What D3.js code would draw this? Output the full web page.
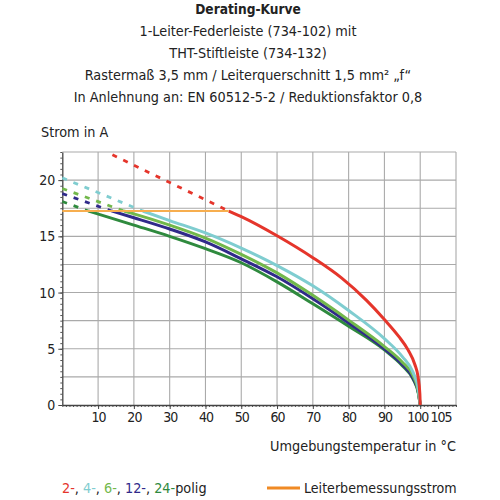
<!DOCTYPE html>
<html>
<head>
<meta charset="utf-8">
<script src="https://cdn.jsdelivr.net/npm/d3@7"></script>
<style>
  body { margin: 0; background: #fff; }
  svg text { font-family: "Liberation Sans Narrow", "DejaVu Sans Condensed", Roboto, sans-serif; fill: #222; }
</style>
</head>
<body>
<svg width="500" height="500"></svg>
<script>
// title lines
const titleLines = [
  "Derating-Kurve",
  "1-Leiter-Federleiste (734-102) mit",
  "THT-Stiftleiste (734-132)",
  "Rastermaß 3,5 mm / Leiterquerschnitt 1,5 mm² „f“",
  "In Anlehnung an: EN 60512-5-2 / Reduktionsfaktor 0,8"
];

const xTickLabels = [10, 20, 30, 40, 50, 60, 70, 80, 90, 100, 105];
const yTickLabels = [0, 5, 10, 15, 20];

const ratedCurrent = 17.25;
const ratedEnd = 46.5;

// polig counts, colours; curves are [temperature, current]
const poles = ["2", "4", "6", "12", "24"];
const poleColors = ["#e5352b", "#7fcdd0", "#72b84b", "#302a8a", "#2f8a3e"];

// dashed extrapolation above rated current
const dash2 = [[14, 22.25], [46.5, 17.25]];
const dash4 = [[0, 20.2], [22.5, 17.25]];
const dash6 = [[0, 19.25], [17.2, 17.25]];
const dash12 = [[0, 18.8], [13.8, 17.25]];
const dash24 = [[0, 18.1], [7.3, 17.25]];

// solid derating curves
const curve2 = [[46.5, 17.25], [50, 16.75], [60, 15.05], [70, 13.1], [78, 11.3], [85, 9.3], [90, 7.6], [94, 6.1], [96.6, 4.9], [98.5, 3.6], [99.4, 2.5], [99.9, 1.0], [100, 0]];
const curve4 = [[22.5, 17.25], [30, 16.4], [40, 15.3], [50, 13.95], [60, 12.4], [70, 10.6], [80, 8.4], [90, 5.9], [95, 4.3], [98, 2.9], [99.4, 1.5], [100, 0]];
const curve6 = [[17.2, 17.25], [20, 17.0], [30, 16.0], [40, 14.85], [50, 13.4], [60, 11.75], [70, 9.75], [80, 7.55], [90, 5.2], [95, 3.8], [98, 2.6], [99.4, 1.3], [100, 0]];
const curve12 = [[13.8, 17.25], [20, 16.65], [30, 15.65], [40, 14.5], [50, 13.0], [60, 11.4], [70, 9.45], [80, 7.3], [90, 5.0], [95, 3.6], [98, 2.4], [99.5, 1.1], [100, 0]];
const curve24 = [[7.3, 17.25], [20, 16.0], [30, 15.0], [40, 13.9], [50, 12.65], [60, 10.95], [70, 9.0], [80, 7.0], [90, 4.9], [95, 3.5], [98, 2.3], [99.5, 1.0], [100, 0]];

const dashes = [dash2, dash4, dash6, dash12, dash24];
const curves = [curve2, curve4, curve6, curve12, curve24];

const svg = d3.select("svg");
const fs = "14.3px";

const x = d3.scaleLinear().domain([0, 110]).range([62.3, 456]);
const y = d3.scaleLinear().domain([0, 22.5]).range([405, 152]);

// title
svg.append("g")
  .selectAll("text")
  .data(titleLines)
  .join("text")
  .attr("x", 248)
  .attr("y", (d, i) => 14 + i * 22)
  .attr("text-anchor", "middle")
  .style("font-size", (d, i) => i === 0 ? "13.6px" : fs)
  .style("font-weight", (d, i) => i === 0 ? "bold" : "normal")
  .text(d => d);

// grid
const grid = svg.append("g").attr("stroke", "#aaa").attr("stroke-width", 1.1);
grid.selectAll("line.v")
  .data(d3.range(10, 111, 10))
  .join("line")
  .attr("class", "v")
  .attr("x1", d => x(d)).attr("x2", d => x(d))
  .attr("y1", y(0)).attr("y2", y(22.5));
grid.selectAll("line.h")
  .data(d3.range(2.5, 22.6, 2.5))
  .join("line")
  .attr("class", "h")
  .attr("x1", x(0)).attr("x2", x(110))
  .attr("y1", d => y(d)).attr("y2", d => y(d));

// minor ticks
svg.append("g")
  .attr("transform", `translate(0,${y(0)})`)
  .call(d3.axisBottom(x).tickValues(d3.range(0, 111, 1)).tickSize(2).tickFormat(""))
  .call(g => g.select(".domain").remove())
  .selectAll("line").attr("stroke", "#555");
svg.append("g")
  .attr("transform", `translate(${x(0)},0)`)
  .call(d3.axisLeft(y).tickValues(d3.range(0, 22.6, 0.5)).tickSize(2).tickFormat(""))
  .call(g => g.select(".domain").remove())
  .selectAll("line").attr("stroke", "#555");

// major axes
const xAxis = svg.append("g")
  .attr("transform", `translate(0,${y(0)})`)
  .call(d3.axisBottom(x).tickValues(xTickLabels).tickSize(4).tickPadding(3).tickSizeOuter(0));
xAxis.select(".domain").attr("stroke", "#444").attr("stroke-width", 1.3);
xAxis.selectAll("line").attr("stroke", "#444");
xAxis.selectAll("text")
  .style("font-size", "14px")
  .style("letter-spacing", "-1px")
  .attr("dx", d => d === 100 ? -3 : d === 105 ? 2.5 : 0)
  .attr("fill", "#222");

const yAxis = svg.append("g")
  .attr("transform", `translate(${x(0)},0)`)
  .call(d3.axisLeft(y).tickValues(yTickLabels).tickSize(4).tickPadding(3).tickSizeOuter(0));
yAxis.select(".domain").attr("stroke", "#444").attr("stroke-width", 1.3);
yAxis.selectAll("line").attr("stroke", "#444");
yAxis.selectAll("text").style("font-size", "14px").attr("fill", "#222");

// axis titles
svg.append("text").attr("x", 41).attr("y", 137).style("font-size", fs).text("Strom in A");
svg.append("text").attr("x", 456).attr("y", 451).attr("text-anchor", "end").style("font-size", fs)
  .text("Umgebungstemperatur in °C");

// curves
const line = d3.line().x(d => x(d[0])).y(d => y(d[1])).curve(d3.curveMonotoneX);
const plot = svg.append("g");

dashes.forEach((pts, i) => {
  plot.append("path")
    .attr("d", d3.line().x(d => x(d[0])).y(d => y(d[1]))(pts))
    .attr("fill", "none")
    .attr("stroke", poleColors[i])
    .attr("stroke-width", 2.8)
    .attr("stroke-dasharray", "5,7");
});

// reverse so 2-polig (red) is on top
curves.map((c, i) => ({ c, i })).reverse().forEach(({ c, i }) => {
  plot.append("path")
    .attr("d", line(c))
    .attr("fill", "none")
    .attr("stroke", poleColors[i])
    .attr("stroke-width", 3);
});

// rated current line
plot.append("line")
  .attr("x1", x(0)).attr("x2", x(ratedEnd))
  .attr("y1", y(ratedCurrent)).attr("y2", y(ratedCurrent))
  .attr("stroke", "#f7ae4f")
  .attr("stroke-width", 2);

// legend
const legend = svg.append("text").attr("x", 62).attr("y", 493).style("font-size", fs);
poles.forEach((p, i) => {
  legend.append("tspan").style("fill", poleColors[i]).text(p + "-");
  legend.append("tspan").style("fill", "#222").text(i < poles.length - 1 ? ", " : "polig");
});
svg.append("line")
  .attr("x1", 267).attr("x2", 300).attr("y1", 488).attr("y2", 488)
  .attr("stroke", "#f08a24").attr("stroke-width", 3);
svg.append("text").attr("x", 304).attr("y", 493).style("font-size", "14.1px").text("Leiterbemessungsstrom");
</script>
</body>
</html>
